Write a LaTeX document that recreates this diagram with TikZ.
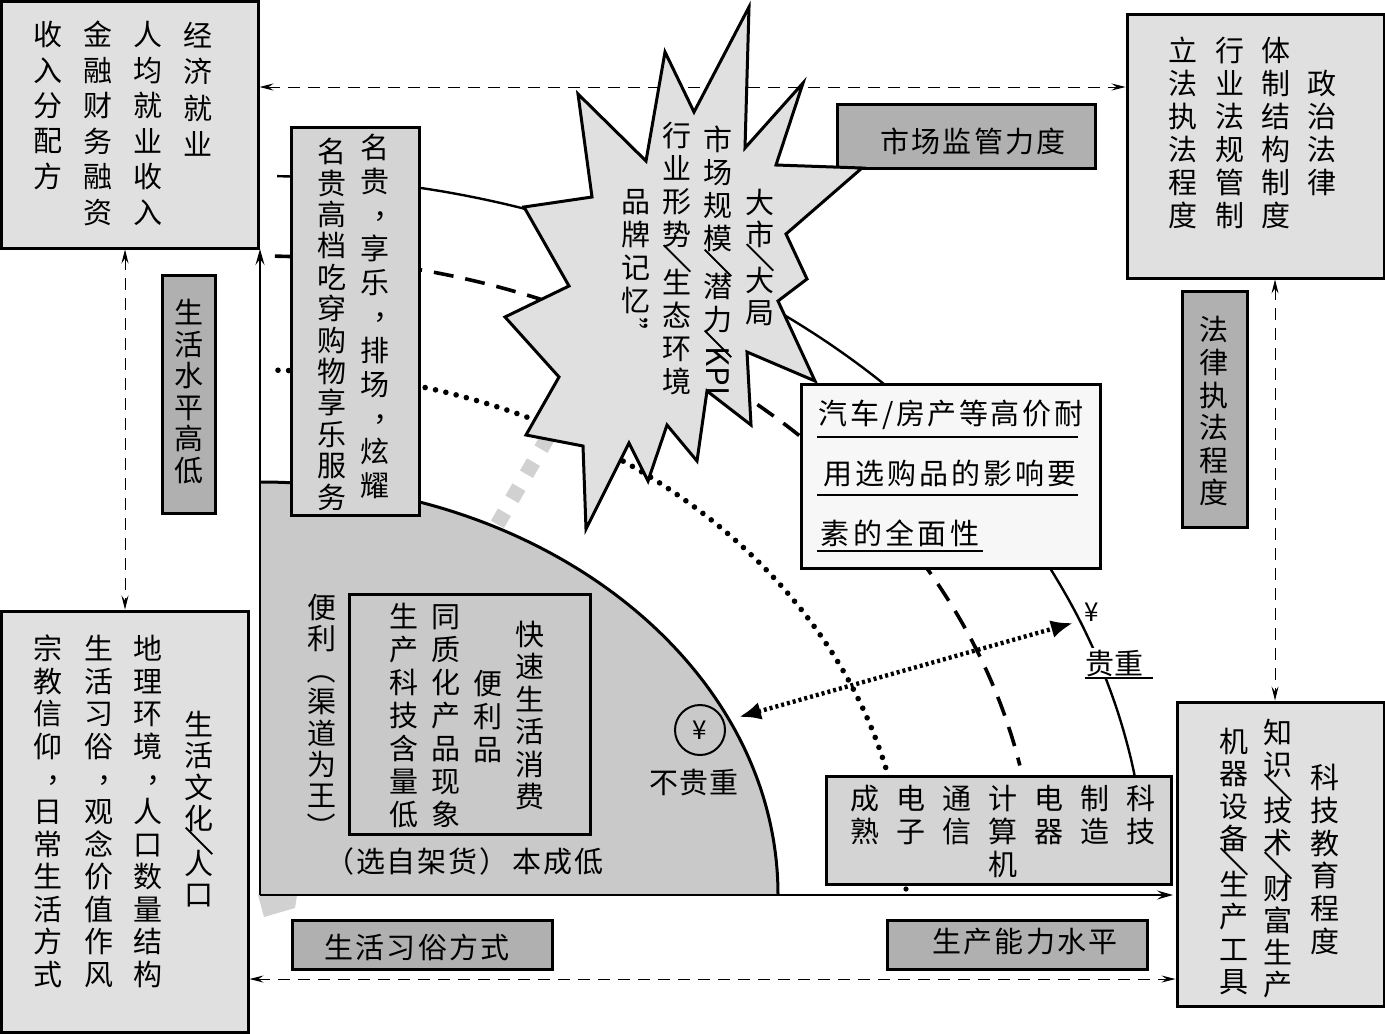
\documentclass[tikz,border=0pt]{standalone}
\usepackage{fontspec}
\usepackage{graphicx}
\setmainfont{Noto Sans CJK SC}
\usetikzlibrary{arrows.meta, fit}
\makeatletter
\newcommand{\vsl}{\rotatebox[origin=c]{-90}{\addfontfeature{FakeBold=1.5}／}}
\newcommand{\vcm}{\kern.45em\raisebox{.26em}{，}\kern-.45em}
\newcommand{\vpl}{\rotatebox[origin=c]{-90}{（}}
\newcommand{\vpr}{\rotatebox[origin=c]{-90}{）}}
\newcommand{\vqt}{\rotatebox[origin=c]{-90}{”}}
\def\vslitem{\vsl}
\newcommand{\vs}[2]{\vbox{\baselineskip=#1pt\lineskiplimit=-100pt
    \@tfor\vc:=#2\do{\ifx\vc\vslitem\kern-4.5pt\fi
        \hbox to 1em{\hss\vrule height .86em depth .14em width 0pt\vc\hss}%
        \ifx\vc\vslitem\kern-4.5pt\fi}}}
\makeatother
\begin{document}
\begin{tikzpicture}[x=0.5pt, y=-0.5pt,
    every node/.style={inner sep=0pt, font=\fontsize{14.5}{17}\selectfont},
    lightbox/.style={draw, line width=1.5pt, fill=black!12, fit={#1}},
    midbox/.style={draw, line width=1.5pt, fill=black!17, fit={#1}},
    darkbox/.style={draw, line width=1.5pt, fill=black!31, fit={#1}},
    whitebox/.style={draw, line width=1.5pt, fill=black!3, fit={#1}},
    frontbox/.style={draw, line width=1.5pt, fit={#1}},
    spaced/.style={font=\fontsize{14.5}{17}\selectfont\addfontfeature{LetterSpace=#1}},
    axis/.style={line width=0.8pt, -{Stealth[length=8pt, width=4.5pt, inset=3pt]}},
    link/.style={line width=0.5pt, dash pattern=on 6pt off 4pt, {Stealth[length=7pt, width=3.5pt, inset=2.5pt]}-{Stealth[length=7pt, width=3.5pt, inset=2.5pt]}},
    arcsolid/.style={line width=1.2pt},
    arcdash/.style={line width=1.8pt, dash pattern=on 10pt off 6pt},
    arcdot/.style={line width=2.8pt, line cap=round, dash pattern=on 0pt off 5.3pt},
    span/.style={line width=2.2pt, dash pattern=on 1.5pt off 1.5pt, {Latex[length=11pt, width=9pt]}-{Latex[length=11pt, width=9pt]}},
    rule/.style={line width=0.8pt}]
    \useasboundingbox (0,0) rectangle (1385,1033);

    \coordinate (graytop) at (548,437);
    \coordinate (graylow) at (278,903);
    \draw[line width=7.5pt, black!18, dash pattern=on 7pt off 7.5pt] (graytop) -- (graylow);
    \fill[black!18] (258,895) -- (297,895) -- (295,908) -- (264,917) -- cycle;

    \fill[black!21] (260,895) -- (260,482) .. controls (546,482) and (778,667) .. (778,895) -- cycle;
    \draw[line width=1.5pt] (260,482) .. controls (546,482) and (778,667) .. (778,895);

    \draw[arcsolid] plot[smooth, domain=88.9:9.6, samples=60] ({260+887*cos(\x)},{895-719*sin(\x)});
    \draw[arcdash] plot[smooth, domain=88.9:11.7, samples=60] ({260+776*cos(\x)},{895-639*sin(\x)});
    \draw[arcdot] plot[smooth, domain=88.4:11.6, samples=60] ({260+645*cos(\x)},{895-525*sin(\x)});

    \coordinate (origin) at (260,895);
    \coordinate (axistop) at (260,249);
    \coordinate (axisend) at (1173,895);
    \draw[axis] (origin) -- (axistop);
    \draw[axis] (origin) -- (axisend);

    \node (econbox) [lightbox={(1,1) (258,248)}] {};
    \node (lawbox) [lightbox={(1127,14) (1384,278)}] {};
    \node (culturebox) [lightbox={(1,611) (248,1032)}] {};
    \node (sciencebox) [lightbox={(1177,702) (1384,1006)}] {};

    \draw[link] (econbox.east |- 0,87) -- (lawbox.west |- 0,87);
    \draw[link] (econbox.south -| 125,0) -- (culturebox.north -| 125,0);
    \draw[link] (lawbox.south -| 1275,0) -- (sciencebox.north -| 1275,0);
    \draw[link] (culturebox.east |- 0,979) -- (sciencebox.west |- 0,979);

    \node (econa) at (198,90.5) {\vs{18.2}{经济就业}};
    \node (econb) at (148,124) {\vs{17.8}{人均就业收入}};
    \node (econc) at (98,124) {\vs{17.8}{金融财务融资}};
    \node (econd) at (48,106) {\vs{17.7}{收入分配方}};

    \node (lawa) at (1322,134) {\vs{16.5}{政治法律}};
    \node (lawb) at (1276,134) {\vs{16.5}{体制结构制度}};
    \node (lawc) at (1230,134) {\vs{16.5}{行业法规管制}};
    \node (lawd) at (1183,134) {\vs{16.5}{立法执法程度}};

    \node (culta) at (199,810) {\vs{15.7}{生活文化\vsl 人口}};
    \node (cultb) at (148,812) {\vs{16.3}{地理环境\vcm 人口数量结构}};
    \node (cultc) at (99,812) {\vs{16.3}{生活习俗\vcm 观念价值作风}};
    \node (cultd) at (48,812) {\vs{16.3}{宗教信仰\vcm 日常生活方式}};

    \node (scia) at (1325,860) {\vs{16.4}{科技教育程度}};
    \node (scib) at (1278,859) {\vs{16}{知识\vsl 技术\vsl 财富生产}};
    \node (scic) at (1234,862) {\vs{16.1}{机器设备\vsl 生产工具}};

    \node (livebox) [darkbox={(162,275) (215,513)}] {};
    \node (livelabel) at (189,392) {\vs{15.8}{生活水平高低}};
    \node (rulebox) [darkbox={(1182,291) (1247,527)}] {};
    \node (rulelabel) at (1214,412) {\vs{16.3}{法律执法程度}};
    \node (supervisebox) [darkbox={(837,104) (1095,168)}] {};
    \node (superviselabel) [spaced=8] at (973,141) {市场监管力度};
    \node (habitbox) [darkbox={(292,920) (552,969)}] {};
    \node (habitlabel) [spaced=8] at (417,947) {生活习俗方式};
    \node (powerbox) [darkbox={(887,920) (1147,969)}] {};
    \node (powerlabel) [spaced=8] at (1025,942) {生产能力水平};

    \node (luxbox) [midbox={(291,127) (419,515)}] {};
    \node (luxa) at (375,317) {\vs{16.9}{名贵\vcm 享乐\vcm 排场\vcm 炫耀}};
    \node (luxb) at (332,325) {\vs{15.7}{名贵高档吃穿购物享乐服务}};

    \draw[line width=1.5pt, fill=black!12] (749,7) -- (745,148) -- (803,83) -- (776,165) -- (862,168) -- (786,234) -- (807,279) -- (778,301) -- (815,381) -- (747,352) -- (751,425) -- (707,391) -- (697,461) -- (667,425) -- (648,481) -- (629,443) -- (586,529) -- (583,446) -- (526,435) -- (559,377) -- (505,317) -- (569,286) -- (524,207) -- (592,197) -- (578,94) -- (646,161) -- (665,52) -- (694,112) -- cycle;
    \node (stara) at (760,258) {\vs{16}{大市\vsl 大局}};
    \node (starb) at (718,238) {\vs{16.5}{市场规模\vsl 潜力\vsl}};
    \node (kpi) [rotate=-90, font=\fontsize{15.5}{17}\selectfont] at (718,371) {KPI};
    \node (starc) at (677,259) {\vs{16.5}{行业形势\vsl 生态环境}};
    \node (stard) at (636,268) {\vs{16.5}{品牌记忆\vqt}};

    \node (carbox) [whitebox={(801,384) (1100,568)}] {};
    \node (cara) [spaced=9] at (951,415) {汽车/房产等高价耐};
    \draw[rule] (817,437) -- (1078,437);
    \node (carb) [spaced=10] at (950,473) {用选购品的影响要};
    \draw[rule] (817,495) -- (1078,495);
    \node (carc) [spaced=12] at (900,533) {素的全面性};
    \draw[rule] (817,551) -- (983,551);

    \node (techbox) [midbox={(826,776) (1171,884)}] {};
    \node (techa) at (1141,816) {\vs{16.5}{科技}};
    \node (techb) at (1095,816) {\vs{16.5}{制造}};
    \node (techc) at (1049,816) {\vs{16.5}{电器}};
    \node (techd) at (1003,832) {\vs{16.5}{计算机}};
    \node (teche) at (957,816) {\vs{16.5}{通信}};
    \node (techf) at (911,816) {\vs{16.5}{电子}};
    \node (techg) at (865,816) {\vs{16.5}{成熟}};
    \fill (906,889) circle (1.3pt);

    \node (conva) at (322,718) {\vs{15.7}{便利\vpl 渠道为王\vpr}};
    \node (innerbox) [frontbox={(349,594) (590,834)}] {};
    \node (innera) at (530,716) {\vs{16.2}{快速生活消费}};
    \node (innerb) at (488,717) {\vs{16.7}{便利品}};
    \node (innerc) at (446,716) {\vs{16.5}{同质化产品现象}};
    \node (innerd) at (404,716) {\vs{16.5}{生产科技含量低}};
    \node (shelf) [anchor=west, spaced=6] at (325,861) {（选自架货）\,本成低};

    \node (lowyen) [draw, circle, line width=1pt, minimum size=25pt, font=\fontsize{13}{15}\selectfont] at (700,730) {¥};
    \node (lowtext) [spaced=4] at (694,782) {不贵重};
    \node (highyen) [font=\fontsize{13}{15}\selectfont] at (1092,612) {¥};
    \node (hightext) [fill=white, inner sep=1pt] at (1114,663) {贵重};
    \draw[rule] (1085,678) -- (1153,678);

    \coordinate (lowend) at (739,717);
    \coordinate (highend) at (1073,623);
    \draw[span] (lowend) -- (highend);
\end{tikzpicture}
\end{document}
